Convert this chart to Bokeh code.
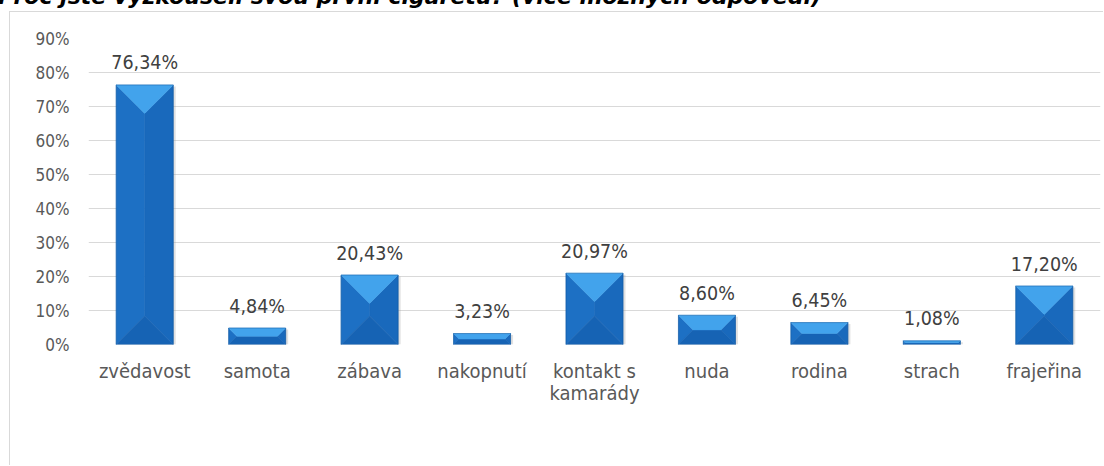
from bokeh.plotting import figure
from bokeh.models import Range1d, FixedTicker, Div
from bokeh.layouts import column
from bokeh.core.properties import value
from bokeh.embed import file_html
from bokeh.resources import INLINE

# ---- data ----
categories = ["zvědavost", "samota", "zábava", "nakopnutí", "kontakt s\nkamarády",
              "nuda", "rodina", "strach", "frajeřina"]
values = [76.34, 4.84, 20.43, 3.23, 20.97, 8.60, 6.45, 1.08, 17.20]
value_labels = ["76,34%", "4,84%", "20,43%", "3,23%", "20,97%", "8,60%", "6,45%", "1,08%", "17,20%"]
y_ticks = [0, 10, 20, 30, 40, 50, 60, 70, 80, 90]
y_tick_labels = ["0%", "10%", "20%", "30%", "40%", "50%", "60%", "70%", "80%", "90%"]
title_text = "Proč jste vyzkoušeli svou první cigaretu? (více možných odpovědí)"

FONT = "DejaVu Sans Condensed"

# title strip: only the lower part of the title is visible, as in the reference
title_div = Div(
    text=('<div style="position:relative; top:-14px; left:-2px; white-space:nowrap; '
          "font-family:'DejaVu Sans'; font-weight:bold; font-style:italic; "
          'font-size:22px; line-height:22px; color:#000;">' + title_text + '</div>'),
    width=1104, height=11, margin=0, styles={"overflow": "hidden"})

W, H = 1094, 454
BL, BR, BT, BB = 78, 4, 26, 122
FW = W - BL - BR
FH = H - BT - BB
X0, X1 = -0.5, len(categories) - 0.5
Y0, Y1 = 0, 90

p = figure(width=W, height=H, x_range=Range1d(X0, X1), y_range=Range1d(Y0, Y1),
           output_backend="svg", toolbar_location=None,
           min_border_left=BL, min_border_right=BR, min_border_top=BT, min_border_bottom=BB,
           styles={"margin-left": "9px", "border-left": "1px solid #d9d9d9",
                   "border-top": "1px solid #d9d9d9"})
p.outline_line_color = None
p.background_fill_color = "white"
p.border_fill_color = "white"

# axes
p.xaxis.ticker = FixedTicker(ticks=list(range(len(categories))))
p.xaxis.major_label_overrides = {i: c for i, c in enumerate(categories)}
p.yaxis.ticker = FixedTicker(ticks=y_ticks)
p.yaxis.major_label_overrides = {t: l for t, l in zip(y_ticks, y_tick_labels)}
for ax in (p.xaxis, p.yaxis):
    ax.axis_line_color = None
    ax.major_tick_line_color = None
    ax.minor_tick_line_color = None
    ax.major_tick_out = 0
    ax.major_tick_in = 0
    ax.major_label_text_font = FONT
    ax.major_label_text_color = "#595959"
p.xaxis.major_label_text_font_size = "20px"
p.xaxis.major_label_text_line_height = 0.92
p.xaxis.major_label_standoff = 14
p.yaxis.major_label_text_font_size = "17px"
p.yaxis.major_label_standoff = 19

p.xgrid.grid_line_color = None
p.ygrid.ticker = FixedTicker(ticks=y_ticks)
p.ygrid.grid_line_color = "#d9d9d9"
p.ygrid.grid_line_width = 1

# bevelled bars
bw = 0.507
sx = FW / (X1 - X0)
sy = FH / (Y1 - Y0)
tops, bots, lefts, rights = [], [], [], []
for i, v in enumerate(values):
    x0, x1 = i - bw / 2, i + bw / 2
    w_px = bw * sx
    h_px = v * sy
    d = min(w_px / 2, h_px / 2)
    ddx, ddy = d / sx, d / sy
    tops.append(([x0, x1, x1 - ddx, x0 + ddx], [v, v, v - ddy, v - ddy]))
    bots.append(([x0, x1, x1 - ddx, x0 + ddx], [0, 0, ddy, ddy]))
    lefts.append(([x0, x0, x0 + ddx, x0 + ddx], [0, v, v - ddy, ddy]))
    rights.append(([x1, x1, x1 - ddx, x1 - ddx], [0, v, v - ddy, ddy]))

# soft shadow
p.quad(left=[i - bw / 2 + 1.5 / sx for i in range(len(values))],
       right=[i + bw / 2 + 2.5 / sx for i in range(len(values))],
       bottom=[0] * len(values), top=[v - 1.5 / sy for v in values],
       fill_color="#9a9a9a", fill_alpha=0.3, line_color=None)

for facets, col in ((lefts, "#1d70c4"), (rights, "#1969bc"),
                    (bots, "#1663b4"), (tops, "#42a3ec")):
    p.patches(xs=[f[0] for f in facets], ys=[f[1] for f in facets],
              fill_color=col, line_color=col, line_width=0.5)

p.quad(left=[i - bw / 2 for i in range(len(values))],
       right=[i + bw / 2 for i in range(len(values))],
       bottom=[0] * len(values), top=values,
       fill_color=None, line_color="#0d4f92", line_alpha=0.45, line_width=1)

# data labels
p.text(x=list(range(len(values))), y=values, text=value_labels,
       text_align="center", text_baseline="alphabetic", y_offset=-22,
       text_font=value(FONT), text_font_size="19.5px", text_color="#404040")

layout = column(title_div, p, spacing=0)
open("out.html", "w").write(file_html(layout, INLINE))
